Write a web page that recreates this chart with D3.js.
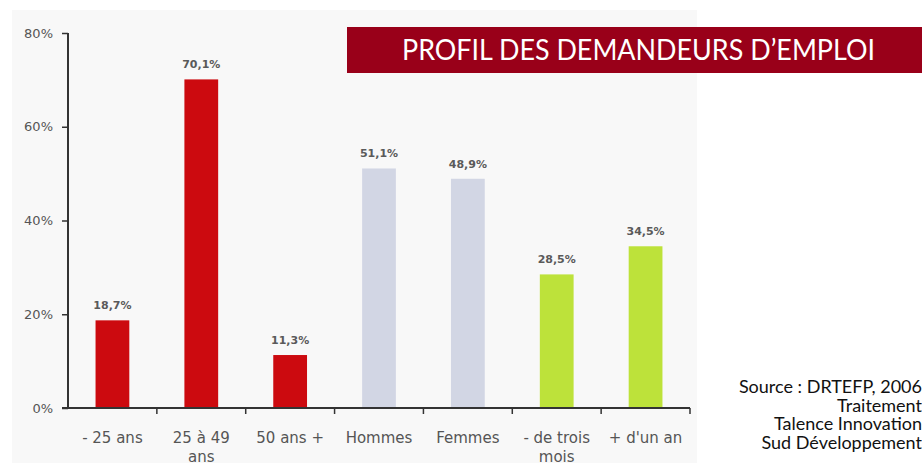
<!DOCTYPE html>
<html>
<head>
<meta charset="utf-8">
<script src="https://cdn.jsdelivr.net/npm/d3@7"></script>
<style>
  body { margin: 0; background: #fff; }
  svg { display: block; }
</style>
</head>
<body>
<svg width="922" height="463"></svg>
<script>
var categories = ["- 25 ans", "25 à 49 ans", "50 ans +", "Hommes", "Femmes", "- de trois mois", "+ d'un an"];
var values = [18.7, 70.1, 11.3, 51.1, 48.9, 28.5, 34.5];
var valueLabels = ["18,7%", "70,1%", "11,3%", "51,1%", "48,9%", "28,5%", "34,5%"];
var groups = ["age", "age", "age", "sexe", "sexe", "duree", "duree"];
var yTicks = [0, 20, 40, 60, 80];
var title = "PROFIL DES DEMANDEURS D\u2019EMPLOI";
var sourceLines = ["Source : DRTEFP, 2006", "Traitement", "Talence Innovation", "Sud Développement"];

var svg = d3.select("svg");

var colors = d3.scaleOrdinal()
    .domain(["age", "sexe", "duree"])
    .range(["#cc0a0f", "#d2d6e4", "#bde23a"]);

// chart panel
svg.append("rect")
    .attr("x", 12).attr("y", 10)
    .attr("width", 685).attr("height", 453)
    .attr("fill", "#f8f8f8");

var y = d3.scaleLinear().domain([0, 80]).range([408, 33]);

var x = d3.scaleBand()
    .domain(categories)
    .range([68, 690])
    .paddingInner(0.62)
    .paddingOuter(0.31);

var xTick = d3.scaleBand().domain(categories).range([68, 690]);

var g = svg.append("g");

// bars
g.selectAll("rect.bar")
    .data(values)
  .enter().append("rect")
    .attr("class", "bar")
    .attr("x", function(d, i) { return x(categories[i]); })
    .attr("y", function(d) { return y(d); })
    .attr("width", x.bandwidth())
    .attr("height", function(d) { return y(0) - y(d); })
    .attr("fill", function(d, i) { return colors(groups[i]); });

// value labels
g.selectAll("text.val")
    .data(values)
  .enter().append("text")
    .attr("class", "val")
    .attr("x", function(d, i) { return x(categories[i]) + x.bandwidth() / 2; })
    .attr("y", function(d) { return y(d) - 11; })
    .attr("text-anchor", "middle")
    .style("font-family", "DejaVu Sans")
    .style("font-size", "11px")
    .style("font-weight", "bold")
    .style("fill", "#5a5a5a")
    .text(function(d, i) { return valueLabels[i]; });

// y axis
var yAxis = svg.append("g")
    .attr("transform", "translate(68,0)")
    .call(d3.axisLeft(y).tickValues(yTicks).tickSize(6).tickFormat(function(d) { return d + "%"; }));
yAxis.select(".domain").attr("stroke", "#333").attr("stroke-width", 2).attr("d", "M0," + y(80) + "V" + y(0));
yAxis.selectAll(".tick line").attr("stroke", "#333").attr("stroke-width", 1.5);
yAxis.selectAll(".tick text")
    .attr("x", -15)
    .style("font-family", "DejaVu Sans")
    .style("font-size", "13px")
    .style("fill", "#555");

// x axis
var xAxisG = svg.append("g").attr("transform", "translate(0," + y(0) + ")");
xAxisG.append("line")
    .attr("x1", 62).attr("x2", xTick.range()[1])
    .attr("stroke", "#333").attr("stroke-width", 2);
xAxisG.selectAll("line.tk")
    .data(categories)
  .enter().append("line")
    .attr("class", "tk")
    .attr("x1", function(d) { return xTick(d) + xTick.step(); })
    .attr("x2", function(d) { return xTick(d) + xTick.step(); })
    .attr("y1", 0).attr("y2", 6)
    .attr("stroke", "#333").attr("stroke-width", 1.5);

// category labels (wrapped)
var wrapped = {
  "25 à 49 ans": ["25 à 49", "ans"],
  "- de trois mois": ["- de trois", "mois"]
};
var catText = xAxisG.selectAll("text.cat")
    .data(categories)
  .enter().append("text")
    .attr("class", "cat")
    .attr("x", function(d) { return xTick(d) + xTick.step() / 2; })
    .attr("y", 35)
    .attr("text-anchor", "middle")
    .style("font-family", "DejaVu Sans")
    .style("font-size", "15px")
    .style("fill", "#555");
catText.each(function(d) {
  var lines = wrapped[d] || [d];
  var t = d3.select(this);
  lines.forEach(function(l, k) {
    t.append("tspan")
      .attr("x", xTick(d) + xTick.step() / 2)
      .attr("dy", k === 0 ? 0 : 19)
      .text(l);
  });
});

// title banner
svg.append("rect")
    .attr("x", 347).attr("y", 27)
    .attr("width", 575).attr("height", 46)
    .attr("fill", "#990019");
svg.append("text")
    .attr("x", 402).attr("y", 60)
    .attr("textLength", 473)
    .attr("lengthAdjust", "spacingAndGlyphs")
    .style("font-family", "Lato")
    .style("font-size", "29px")
    .style("fill", "#fff")
    .text(title);

// source note
svg.selectAll("text.src")
    .data(sourceLines)
  .enter().append("text")
    .attr("class", "src")
    .attr("x", 922)
    .attr("y", function(d, i) { return 393 + i * 18.5; })
    .attr("text-anchor", "end")
    .style("font-family", "Lato")
    .style("font-size", "18px")
    .style("fill", "#111")
    .text(function(d) { return d; });
</script>
</body>
</html>
